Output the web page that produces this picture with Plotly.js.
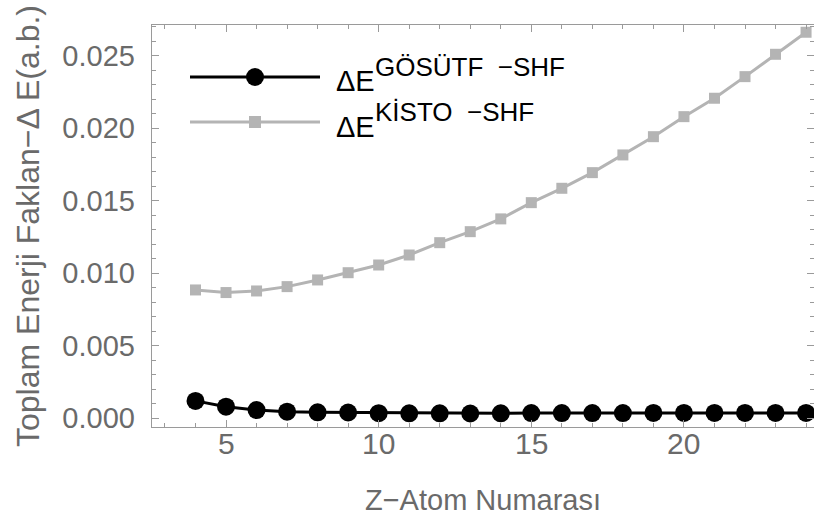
<!DOCTYPE html>
<html>
<head>
<meta charset="utf-8">
<script src="https://cdn.plot.ly/plotly-3.0.1.min.js"></script>
<style>html,body{margin:0;padding:0;background:#fff;}#chart{width:814px;height:526px;}</style>
</head>
<body>
<div id="chart"></div>
<script>
// ---- data ----
const atomNumbers = [4,5,6,7,8,9,10,11,12,13,14,15,16,17,18,19,20,21,22,23,24];
const gosutfMinusShf = [0.00120,0.00080,0.00057,0.00046,0.00041,0.00040,0.00035,0.00034,0.00034,0.00033,0.00034,0.00036,0.00036,0.00036,0.00036,0.00037,0.00037,0.00037,0.00037,0.00037,0.00037];
const kistoMinusShf = [0.00885,0.00867,0.00878,0.00908,0.00954,0.01004,0.01057,0.01126,0.01211,0.01287,0.01375,0.01487,0.01586,0.01694,0.01816,0.01942,0.02080,0.02207,0.02356,0.02510,0.02662];
const xTickValues = [5,10,15,20];
const xTickLabels = ["5","10","15","20"];
const yTickValues = [0,0.005,0.010,0.015,0.020,0.025];
const seriesNames = ["GÖSÜTF  −SHF", "KİSTO  −SHF"];
const xTitle = "Z−Atom Numarası";
const yTitle = "Toplam Enerji Faklan−Δ E(a.b.)";

// ---- layout geometry ----
const W = 814, H = 526;
const M = {l:152, r:0, t:25, b:99};
const plotW = W - M.l - M.r, plotH = H - M.t - M.b;
const px = x => (x - M.l) / plotW;
const py = y => (H - M.b - y) / plotH;

const FONT = "Liberation Sans, Arial, sans-serif";
const GRAY_TXT = "#6a6a6a";
const FRAME = "#9a9a9a";
const LIGHT = "#b4b4b4";

const traces = [
  {x: atomNumbers, y: gosutfMinusShf, type: "scatter", mode: "lines+markers",
   name: "ΔE " + seriesNames[0],
   line: {color: "#000000", width: 3},
   marker: {color: "#000000", size: 18, symbol: "circle"}},
  {x: atomNumbers, y: kistoMinusShf, type: "scatter", mode: "lines+markers",
   name: "ΔE " + seriesNames[1],
   line: {color: LIGHT, width: 3},
   marker: {color: LIGHT, size: 11, symbol: "square"}}
];

// legend drawn manually to reproduce long sample lines
const legendRows = [
  {lineY: 77, base: 91, supBase: 77, color: "#000000", shape: "circle", r: 9, label: seriesNames[0]},
  {lineY: 122, base: 137, supBase: 122, color: LIGHT, shape: "rect", r: 6, label: seriesNames[1]}
];
const shapes = [];
const annotations = [];
legendRows.forEach(row => {
  shapes.push({type: "line", xref: "paper", yref: "paper", x0: px(190), x1: px(320), y0: py(row.lineY), y1: py(row.lineY),
    line: {color: row.color, width: 3}});
  shapes.push({type: row.shape, xref: "paper", yref: "paper", xsizemode: "pixel", ysizemode: "pixel",
    xanchor: px(255), yanchor: py(row.lineY), x0: -row.r, x1: row.r, y0: -row.r, y1: row.r,
    fillcolor: row.color, line: {width: 0}});
  annotations.push({xref: "paper", yref: "paper", x: px(335), y: py(row.base + 7), xanchor: "left", yanchor: "bottom",
    text: "ΔE", showarrow: false, font: {family: FONT, size: 29, color: "#000000"}, borderpad: 0});
  annotations.push({xref: "paper", yref: "paper", x: px(374), y: py(row.supBase + 6), xanchor: "left", yanchor: "bottom",
    text: row.label, showarrow: false, font: {family: FONT, size: 26, color: "#000000"}, borderpad: 0});
});

// x tick labels placed on the x scale (closer to the frame than Plotly's default offset)
xTickValues.forEach((v, i) => {
  annotations.push({xref: "x", yref: "paper", x: v, y: py(426), xanchor: "center", yanchor: "top",
    text: xTickLabels[i], showarrow: false, font: {family: FONT, size: 30, color: GRAY_TXT}, borderpad: 0});
});

const layout = {
  width: W, height: H,
  margin: M,
  paper_bgcolor: "#ffffff", plot_bgcolor: "#ffffff",
  showlegend: false,
  font: {family: FONT, color: GRAY_TXT},
  xaxis: {
    range: [2.575, 24.26],
    tickvals: xTickValues, ticktext: xTickLabels,
    showticklabels: false,
    ticks: "inside", ticklen: 7, tickwidth: 1, tickcolor: FRAME,
    minor: {dtick: 1, tick0: 0, ticks: "inside", ticklen: 4, tickcolor: FRAME, tickwidth: 1, showgrid: false},
    showline: true, linecolor: FRAME, linewidth: 1.3, mirror: "ticks",
    showgrid: false, zeroline: false,
    title: {text: xTitle, font: {family: FONT, size: 29, color: GRAY_TXT}, standoff: 62}
  },
  yaxis: {
    range: [-0.0006, 0.02712],
    tickvals: yTickValues, ticktext: yTickValues.map(v => v.toFixed(3)),
    ticks: "inside", ticklen: 7, tickwidth: 1, tickcolor: FRAME,
    minor: {dtick: 0.001, tick0: 0, ticks: "inside", ticklen: 4, tickcolor: FRAME, tickwidth: 1, showgrid: false},
    showline: true, linecolor: FRAME, linewidth: 1.3, mirror: "ticks",
    showgrid: false, zeroline: false,
    tickfont: {family: FONT, size: 29, color: GRAY_TXT},
    ticklabelstandoff: 10,
    title: {text: yTitle, font: {family: FONT, size: 32, color: GRAY_TXT}, standoff: 13}
  },
  shapes: shapes,
  annotations: annotations
};

Plotly.newPlot("chart", traces, layout, {staticPlot: true, displayModeBar: false});
</script>
</body>
</html>
